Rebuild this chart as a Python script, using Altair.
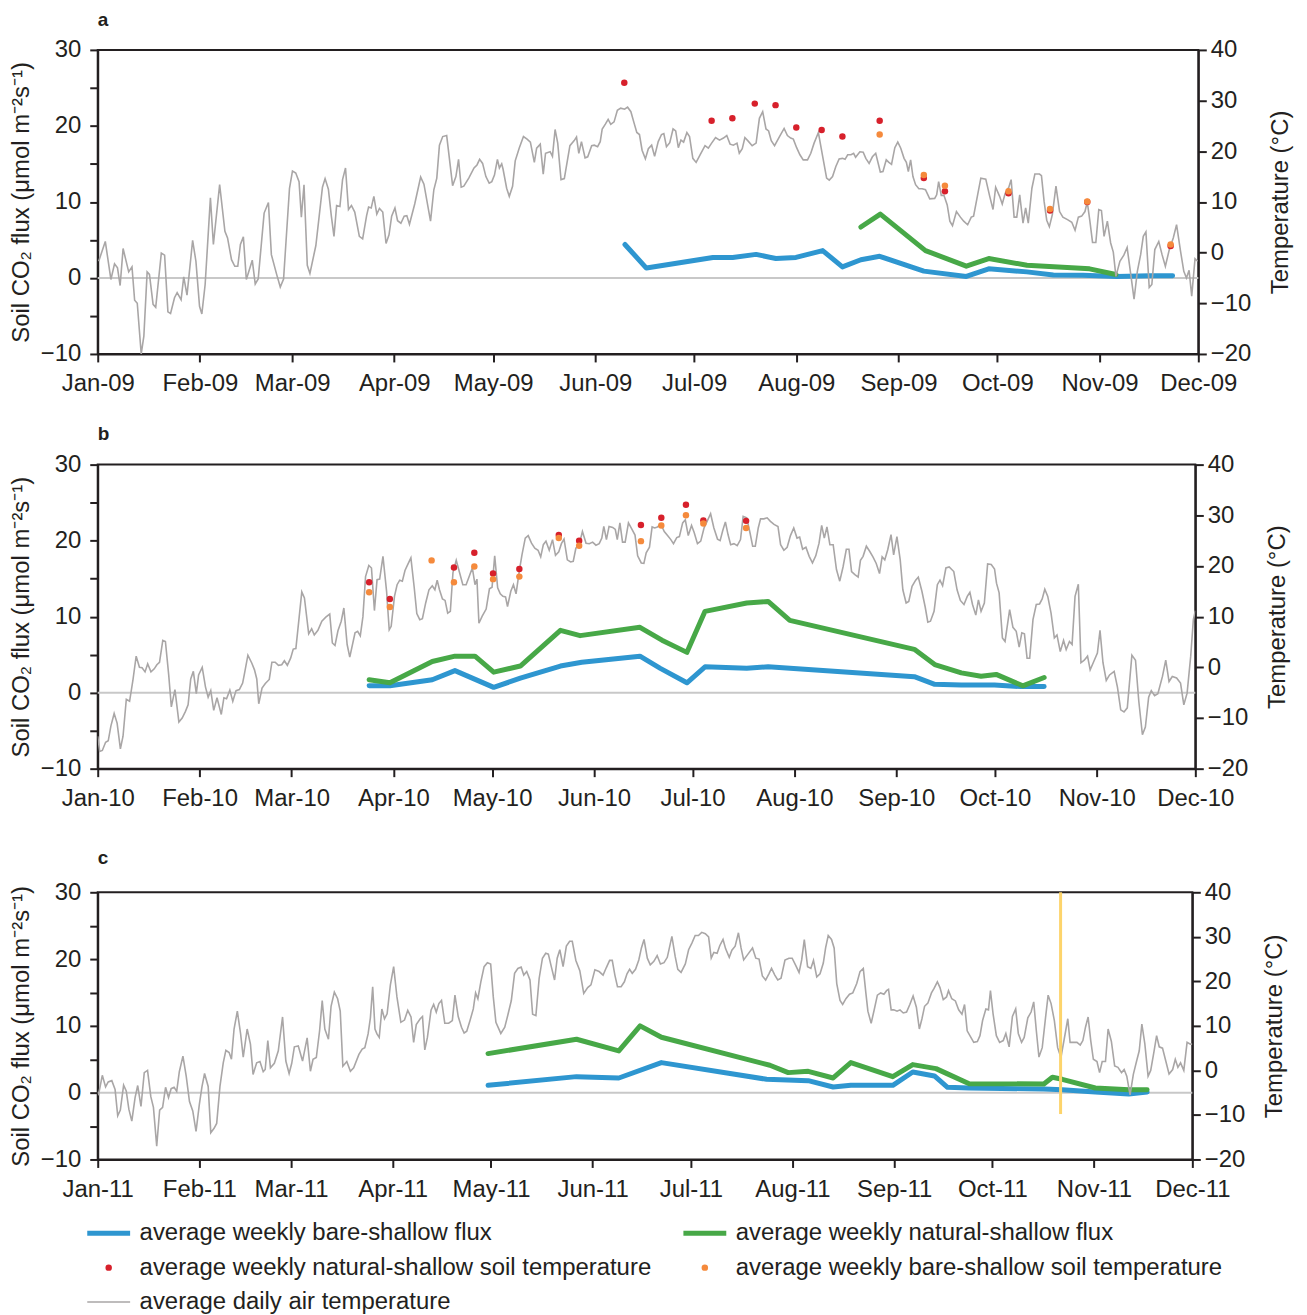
import altair as alt
import pandas as pd

# ---------------- values ----------------
YEARS = [2009, 2010, 2011]
PANEL_LABELS = ["a", "b", "c"]
MONTHS = list(range(1, 13))

# daily air temperature: (day offset from 1 Jan, deg C)
AIR_2009 = [(0.3,-1.7),(2.3,2.2),(4,-5.3),(5.1,-2.2),(6,-3.0),(6.8,-6.5),(7.7,0.8),(9.4,-3.8),(10.4,-2.8),(11.2,-9.4),(12,-10),(13.2,-20),(14,-16.5),(15,-3.8),(15.7,-4.3),(16.8,-10.2),(17.6,-10.8),(19.3,-0.1),(20.3,-0.5),(21.3,-11.7),(22.1,-12),(23.3,-8.9),(24.1,-7.9),(25.3,-9.3),(26.1,-4.8),(27.1,-8.4),(28.8,2.4),(29.8,-1.7),(30.9,-10.6),(31.6,-12.1),(32.6,-6.3),(34.2,10.8),(35.1,1.6),(37,13.4),(38.6,4.2),(39.4,2.9),(40.6,-1.4),(41.6,-2.7),(42.5,-2.7),(43.3,1.6),(44.2,3.1),(45.1,-5.3),(46.9,-1.5),(47.8,-6.2),(48.7,-5.2),(50.5,7.8),(51.8,9.9),(52.7,-0.4),(54.3,-4.3),(55.4,-6.8),(56.4,-5.2),(58.2,12.7),(59.1,16.1),(60.1,15.7),(61.1,14),(61.8,7),(62.6,13.4),(63.6,-2.5),(64.4,-4.1),(66.2,1.4),(68.2,12.9),(69,14.6),(70,12.5),(70.9,7.2),(71.7,3.2),(72.5,9.3),(73.5,9.1),(74.3,14.4),(75.2,16.7),(76.1,8.5),(77,9.3),(78,8),(79.4,3.2),(80.4,2.7),(81.6,7.3),(82.2,9),(83,8.8),(83.8,11.1),(84.7,7.6),(85.5,8.7),(86.5,8),(87.5,1.8),(88.4,3.5),(89.2,7.2),(90.2,8.8),(91,6.3),(92,5.8),(93,7.2),(93.8,7.3),(94.6,5.6),(96.2,9.6),(98,14.9),(99,13.5),(101,6.2),(102,12.4),(102.9,14.7),(103.7,21.2),(104.7,22.9),(105.9,23.1),(107.7,13.2),(108.7,15),(109.5,18.4),(110.3,12.9),(111.1,13.1),(112.6,14.7),(114.2,16.7),(115.1,17.3),(115.9,18.4),(116.8,17.6),(117.8,15),(118.8,13.7),(119.6,14),(120.4,15.3),(121.3,18.4),(121.9,16.7),(122.6,17.5),(123,16.5),(124.1,12.7),(124.9,11.1),(125.9,13.1),(126.7,18.1),(127.9,20.6),(129.2,22.9),(130.3,22.4),(131.3,21.8),(132.5,17.8),(133.2,20.6),(134.3,21.4),(135.2,15.5),(135.9,19.6),(137.3,19.9),(138,19),(138.8,24.3),(139.6,21.6),(140.6,14.4),(141.6,14.6),(143.3,21.1),(144.6,22.1),(145.3,22.8),(146,19.6),(146.8,21.9),(147.9,18.7),(148.7,18.9),(149.9,21.1),(150.7,21.2),(151.7,20.9),(152.5,21.9),(153.1,24.4),(154.1,25.4),(154.9,26.3),(155.7,25.3),(156.7,25.8),(157.7,28.1),(158.7,28.5),(159.9,28.3),(160.8,28.7),(161.8,27.8),(162.8,25.5),(163.6,23.7),(164.4,23.3),(165.2,20.2),(166.2,18.5),(167.1,20.5),(168.1,21.2),(169,19),(170.1,21.9),(171.1,23.3),(171.8,23.5),(172.6,20.9),(173.6,21.7),(174.6,24.4),(175.4,24),(176.2,20.7),(177,22.2),(177.8,21.8),(178.8,23.7),(179.6,22.9),(180.6,18.6),(181.6,17.8),(182.8,19.3),(184.3,21.1),(185.3,20.6),(186.3,21.6),(187.5,22.7),(188.7,22.2),(189.9,22.6),(190.9,23.1),(191.9,21.4),(192.9,21.2),(194,21.6),(194.7,19.6),(195.6,20.5),(196.4,22.7),(197.4,22),(198.6,21.1),(199.8,21.6),(200.8,26.5),(201.8,27.8),(202.8,24.4),(203.6,24),(204.4,22.1),(205.4,21.1),(206.9,22.9),(208.3,24.5),(209.3,23.1),(210.3,22.6),(211.1,22.4),(212.1,20.7),(213.1,19.3),(214.1,18.3),(215.4,18.3),(216.4,19.6),(217.4,21.6),(218.7,23.7),(220,19),(221.2,14.7),(222,14.3),(223,15),(224,17),(225,18.5),(226,18.6),(226.8,18.4),(227.6,19.3),(228.6,19.3),(229.4,19.6),(230,18.8),(231.3,19.9),(232.3,19.8),(233.1,18.6),(234.1,17.6),(235.1,18.9),(236.1,19.6),(237.5,15.9),(238.3,16),(239.3,18.3),(240.1,17.8),(240.9,17.4),(241.9,20.7),(242.8,21.8),(243.7,20.6),(244.7,18.6),(245.4,17.8),(246,16),(246.7,18.3),(247.4,15),(248.2,13.4),(249.2,12.6),(250.2,12.6),(251.2,12.4),(252.5,10.6),(254,10.7),(254.6,11.4),(255.2,14),(256,11.3),(256.8,11.3),(257.8,9.4),(258.6,6.2),(259.4,5.3),(260.6,8.1),(261.8,7),(262.8,6.2),(264,5.5),(265.1,7),(265.8,7.2),(267,11.3),(268,14.7),(269.5,14.5),(270.7,11.1),(271.7,8.5),(272.5,12.9),(273.7,11.1),(274.5,9.6),(275.4,11.7),(276.5,12.9),(277.2,14.4),(278.1,7),(278.9,7),(279.8,11.4),(280.8,5.8),(281.6,8.8),(282.4,5.8),(283.5,12.7),(284.4,15.5),(285.8,15.5),(286.4,15.2),(287.2,10.1),(288,6.4),(288.8,5.1),(289.7,7.5),(290.8,13.1),(291.9,8.1),(292.9,7),(294.3,6.5),(295.6,6),(296.6,4.4),(297.6,7),(298.6,7.2),(299.6,8.1),(300.3,10),(301.1,6.2),(301.9,2),(302.9,2),(303.8,8.5),(304.6,8.3),(305.4,3.2),(306.4,6.2),(307.4,1.9),(308.2,0.1),(309,-4.7),(310.2,-1.7),(311.4,-0.5),(312.4,1),(313.5,-4.3),(314.5,-9.2),(315.5,-3.7),(316.5,-0.4),(317.3,3.2),(318.1,4.1),(319.1,-6.9),(319.9,-6.3),(320.8,0.6),(322,2.2),(323,-0.4),(324,-2.7),(325.2,0.6),(326.4,2.9),(327.4,5.5),(328.6,0.3),(329.6,-3.7),(330.4,-5),(331.2,-3.5),(332,-8.6),(333,-1.2),(333.8,-1.7)]

AIR_2010 = [(0,-13.6),(0.6,-16.6),(1.4,-16.4),(2.4,-14.8),(3.2,-14.5),(4,-11.6),(5,-9.1),(5.9,-11),(6.9,-16.1),(7.7,-13.6),(8.7,-6.3),(9.7,-6.7),(10.7,-2.6),(11.7,2.2),(12.7,0),(13.5,-0.1),(14.4,-0.9),(15.2,0.7),(16.2,-0.9),(17.2,-0.3),(18,0.5),(18.8,1),(19.8,5.3),(20.6,5.1),(21.6,-1.5),(22.4,-7.8),(23.5,-4.4),(24.7,-10.8),(25.7,-10),(26.7,-8.7),(27.5,-7.4),(28.3,-2.3),(29.1,-0.8),(30,-5.2),(30.7,-1.5),(31.8,0),(32.8,-3.9),(33.6,-5.9),(34.4,-4.6),(35.3,-8.5),(36.3,-6),(37.6,-9.3),(38.4,-6),(39.2,-6.2),(40.2,-4.5),(41.1,-6.7),(42.1,-4.6),(43.1,-4.4),(44.1,-3.1),(44.7,-1.1),(45.7,2.4),(46.9,0.8),(47.7,-0.5),(48.4,-2.3),(49,-7.2),(50,-4.1),(51,-3.2),(52.2,-2.4),(53,1),(54,1),(55,0.4),(56,0.5),(56.8,1.3),(57.7,0.4),(58.7,1.8),(59.5,3.6),(60.3,3.7),(61.3,9.9),(62.1,14.9),(62.9,13.7),(64.2,6.6),(65.1,7.6),(65.9,6.4),(67,7.3),(68.2,9.1),(69.4,9.9),(70.6,10.5),(71.4,4.8),(72.2,4.3),(73.1,7.2),(74.1,9.1),(74.9,11.7),(75.9,4.5),(76.7,2),(78.3,6.8),(79.1,7.1),(79.9,6.2),(80.7,10),(81.5,17.9),(82.5,20.1),(83.3,19.6),(84.2,11.2),(85,17.3),(85.8,17.4),(86.8,21.9),(87.9,15),(88.7,7.4),(89.3,8.1),(90.3,14),(91.1,16.3),(91.9,17.2),(92.7,17),(93.5,19.1),(94.5,20.5),(95.3,21.6),(96.3,15.8),(97.1,10.6),(98,9.4),(98.8,9.6),(99.8,12.7),(100.8,15.3),(101.8,16.1),(102.6,15.3),(103.3,17.2),(104,15.3),(104.9,13.5),(105.7,13.2),(106.5,10.7),(107.3,11.05),(108.1,18.7),(109.1,21.1),(110.1,18.7),(111.1,16.3),(112.1,16.3),(113.2,18.2),(114,19.6),(114.8,16.3),(115.4,17.4),(116,8.7),(117,10.1),(118.2,11.5),(119.2,15.5),(120,15.8),(120.8,22),(121.7,15.7),(122.5,14.5),(123.3,14),(124.1,13.9),(124.7,12),(125.7,15),(126.5,16.3),(127.3,14.5),(128.3,19.1),(129.1,22.2),(130.1,25.5),(131,26),(132,24.5),(133,23.5),(134,23.1),(134.8,21.8),(135.6,24.2),(136.4,24.9),(137.4,23.1),(138.4,25.2),(139.3,22.1),(140.3,22.8),(141.1,24.4),(141.9,25.3),(142.9,21.2),(143.9,20.8),(144.7,20.9),(145.5,23.5),(146.5,24.2),(147.5,26.8),(148.6,24.5),(149.6,24.4),(150.6,24.7),(151.6,24.1),(152.6,24.4),(153.4,25.5),(154,27.8),(154.8,25.2),(155.6,27.8),(156.7,27.6),(157.5,27.2),(158.1,25.2),(158.9,28.5),(159.7,24.7),(160.5,24.7),(161.5,28.5),(162.5,27.3),(163.5,26.1),(164.3,22),(165.4,20.6),(166.2,20.5),(166.9,22.6),(167.9,23.7),(168.7,27.7),(169.5,27.5),(170.3,27.7),(171.4,28.2),(172.4,26.8),(173.4,26),(174.4,25.2),(175.2,24.4),(176.2,25.6),(177,25.8),(178,28.5),(178.8,29.1),(179.7,26),(180.7,28),(181.5,26.6),(182.5,24.4),(183.5,24.9),(184.5,27.5),(185.5,28.9),(186.5,30.3),(187.5,27.5),(188.6,25.3),(189.4,25),(190.2,27),(191,28.7),(191.8,26.2),(192.6,24.2),(193.6,24.4),(194.6,24),(195.6,25.2),(196.4,29.8),(197.5,29.5),(198.5,26.5),(199.3,23.9),(200.1,23.9),(201,27.5),(201.7,29.3),(202.7,29.3),(203.7,29.5),(204.7,28.8),(205.8,28.2),(207,27.8),(207.8,24.2),(208.8,23.1),(209.8,23.7),(210.8,26),(211.8,27.5),(212.8,25.5),(213.6,25.7),(214.5,23.3),(215.5,23.7),(216.5,21.9),(217.5,20.6),(218.5,22),(219.5,24.5),(220.3,28),(221.1,25.5),(221.9,27.7),(222.8,24.2),(223.8,24.2),(224.8,19.3),(225.8,17),(226.8,19.8),(227.8,23.3),(228.6,23.3),(229.4,18.9),(230.4,18.3),(231.4,17.8),(232.1,21.1),(232.9,21.9),(233.9,23.9),(234.9,22.9),(235.9,21.8),(236.9,20.5),(237.9,18.5),(238.7,21.8),(239.5,21.2),(240.4,23.2),(241.4,26.2),(242.2,22.2),(243.2,25.8),(244.2,21.2),(245,15.3),(246,12.7),(246.8,13),(247.8,16),(248.9,17.2),(249.7,17.8),(250.8,15),(251.8,11.9),(252.6,8.9),(253.4,9.1),(254.5,11.05),(255.5,16.3),(256.3,17.2),(257.1,16.1),(258.1,19.6),(259.1,19.8),(260.5,18.9),(261.5,15.3),(262.5,13.2),(263.6,12.4),(264.6,14),(265.4,14.8),(266.2,12.4),(267.2,10.3),(268,13.3),(268.8,11.05),(269.8,12.7),(270.8,20.4),(271.9,20.3),(272.9,19.4),(273.5,16.6),(274.3,14.7),(275.3,5.8),(276.1,5.1),(277.5,11.4),(278.5,7.9),(279.5,7.1),(280.4,4),(281.2,6.8),(282,6.6),(282.8,1.8),(283.6,1.8),(284.6,9.4),(285.6,12.4),(286.6,12.5),(287.4,13.5),(288.2,15.4),(289.1,14),(290.1,10.7),(291.1,5.8),(291.9,6.4),(292.9,3.1),(293.9,5.3),(294.7,3.5),(295.7,5.1),(296.5,4.5),(297.4,14),(298.4,16.4),(299.2,0.9),(300.2,1.4),(301.2,2.2),(302,-0.5),(303,1),(304.2,2.8),(305,7.3),(305.9,0.9),(306.9,-2.6),(307.9,-1.5),(309.3,-0.8),(310.3,-3.9),(311.3,-8.4),(312.3,-8.8),(313.3,-8),(314.7,2.4),(315.8,1.4),(316.8,-6.7),(317.9,-13.3),(318.8,-11.8),(319.8,-5.9),(320.6,-4.6),(321.6,-5.6),(322.6,-5.2),(324,-1.8),(325,1.4),(326,-2.8),(327,-1.8),(328.3,-2.1),(329.5,-3.1),(330.5,-7.4),(331.5,-5.1),(332.6,2.2),(333.4,9.4),(334,11.2)]

AIR_2011 = [(0.2,-5.6),(1.4,-1.1),(2.4,-3.7),(3.2,-2.6),(4.3,-2.3),(5.3,-4.3),(6.1,-10.2),(6.9,-8.9),(7.9,-3.3),(8.7,-4.6),(9.5,-8.7),(10.4,-11.4),(11.4,-6.1),(12.2,-3.4),(13.2,-8.1),(14.2,-0.5),(15.2,0),(16.2,-5.9),(17,-8.3),(18,-17),(18.9,-8.9),(19.8,-8.3),(20.7,-3.8),(21.6,-6.1),(22.4,-4.1),(23.3,-3.8),(24.1,-4.7),(24.9,-0.3),(26,3.2),(27,-1.3),(28,-7),(29,-9.1),(30,-13.7),(31,-7.7),(31.8,-3.7),(32.6,-0.7),(33.7,-3.6),(34.5,-14),(35.5,-13),(36.3,-11.9),(37.3,-3.6),(38.3,1.7),(39.1,4.5),(40.1,4),(40.8,2.5),(41.6,9.3),(42.6,13.3),(43.6,8.2),(44.4,3),(45.6,9.3),(46.6,5.9),(47.4,-0.9),(48.5,1.7),(49.5,2),(50.5,-0.3),(51.1,0.2),(51.9,6.7),(52.7,0.6),(53.9,1.6),(55.1,4.4),(56.4,12),(57.4,2.1),(58.4,-0.7),(59.2,1.6),(60,5.3),(61.2,5.5),(62.5,2.1),(63.9,7.3),(64.9,-0.2),(65.7,2.5),(66.7,2.9),(67.7,8.9),(68.5,15.7),(69.3,9.3),(70.4,7),(71.2,14.4),(72.2,17.6),(73.2,16.1),(74,13.3),(74.8,0.95),(76,2),(77.1,-0.2),(78.1,0.6),(79.7,3.6),(80.7,4.8),(81.5,5.1),(82.5,8.2),(83.2,11.8),(83.9,18.8),(84.6,9.3),(85.2,8.2),(85.9,7.4),(86.7,13.8),(87.5,11.6),(88.3,12.7),(89.3,19.2),(90.3,23.3),(91.3,16.5),(92.5,10.8),(93.6,11.3),(94.6,13.5),(95.6,12),(96.4,6.3),(97.2,10.3),(98.4,11.6),(99.1,12.1),(99.8,4.6),(100.6,7.4),(101.7,13.5),(102.5,14.8),(103.3,13.1),(104.1,15),(104.9,15.7),(105.9,10.6),(107.1,10.6),(108.2,11.2),(109,16.9),(110,12.1),(111,9.7),(111.8,8.4),(112.6,8.8),(113.6,11.2),(114.6,13.8),(115.3,17.4),(116,16.1),(116.9,19.9),(117.9,23.3),(118.9,24.2),(119.9,23.9),(120.7,16.5),(121.5,10.8),(123,8.3),(124.2,9.7),(125.2,12.6),(126.2,15.7),(127.2,21.8),(128.2,22.9),(129.2,23.2),(130,21.4),(130.9,22.2),(131.9,20.3),(132.7,12.6),(133.7,12.3),(134.7,20.7),(135.7,25.2),(136.7,26.3),(137.5,26.1),(138.4,23.3),(139.4,20.3),(140.2,25.2),(141,27.1),(142,23.3),(143,27.9),(144,29),(144.8,29),(145.9,24.7),(147.1,22.4),(148.3,17.3),(149.5,18.6),(150.5,19.2),(151.7,22.6),(153,22.2),(154.2,21.4),(155.2,23.1),(156.2,24.7),(157,24.7),(157.8,21.4),(158.6,18.8),(159.7,18.8),(160.7,19.9),(161.5,21.7),(162.3,22.7),(163.1,21.8),(164.1,22.7),(165.1,24.8),(165.9,27.5),(166.7,29.4),(167.7,25.2),(168.6,23.7),(169.7,24.5),(170.7,25.8),(171.7,23.9),(172.8,24.2),(173.8,25.4),(175.2,30.1),(176.2,25.6),(177,22.7),(178,22),(179.3,23.9),(180.3,27.1),(181.3,28.6),(182.3,30.3),(183.3,30.3),(184.3,31),(185.4,30.7),(186.4,30),(187.2,25.2),(188,26.5),(189,26.3),(189.8,28),(190.8,29.4),(191.6,27.3),(192.7,25.4),(193.5,27),(194.5,27.9),(195.5,30.9),(196.3,27.5),(197.1,24.8),(198.3,26),(199.8,27.5),(200.8,25.2),(201.8,25),(202.8,21.2),(203.8,20.3),(204.8,21.7),(205.6,22.9),(206.6,21.4),(207.5,20.3),(208.5,20.7),(209.7,24.8),(210.9,25.2),(211.9,25.2),(212.9,23.7),(214,22),(214.8,24.8),(215.6,29.4),(216.6,23.3),(217.6,22.9),(218.4,24.7),(219.4,21),(220.4,21.7),(221.4,24.1),(222.1,27.5),(222.9,30.3),(223.9,29.4),(224.7,27.5),(225.5,19.5),(226.5,15.7),(227.3,14.8),(228.3,16.1),(229.4,17.1),(230.4,17.4),(231.6,19.5),(232.6,22.2),(233.6,22.9),(234.4,17.3),(235,13.3),(236,10.6),(236.9,13.5),(237.9,16.9),(238.9,17.4),(239.9,17.1),(240.7,17.9),(241.3,18.2),(242.1,13.6),(242.9,13.6),(243.9,13.3),(244.8,13.6),(245.8,12.9),(246.8,13.1),(247.8,14.8),(248.8,16.7),(249.8,14.2),(250.7,9.3),(251.5,11.6),(252.3,14.4),(253.3,15.1),(254.4,17.4),(255.2,18.4),(256.2,19.9),(257,18.6),(258,15.9),(259,16.5),(259.6,17.9),(260.6,16.1),(261.7,15.6),(262.7,13.6),(263.7,12.6),(264.5,14.8),(265.3,8.9),(266.3,7.6),(267.3,6.3),(268.4,6.5),(269.2,7.8),(270,11.2),(271,13.8),(271.8,13.6),(272.4,17.9),(273.2,12.7),(274.2,7.8),(275.2,6.3),(276.3,6.7),(277.1,8.3),(278.1,5.3),(279.1,12.1),(280.1,13.8),(280.9,8.3),(281.9,6.3),(282.7,7.4),(283.8,11.8),(284.8,13.1),(285.6,15.4),(286.4,8.9),(287.2,3),(288.2,5.1),(289.2,11.8),(290,16.9),(290.9,15),(291.9,11.2),(292.9,5.1),(293.9,2.9),(294.9,7),(296,11.6),(296.7,6.3),(297.8,6.3),(298.8,6.3),(299.8,5.7),(300.6,6.7),(301.4,9.7),(302.2,12),(303,6.7),(303.8,2.5),(304.9,2),(305.7,-0.5),(306.5,2),(307.5,2),(308.3,9.3),(309.3,6.5),(310.3,1),(311.3,0.7),(312.4,-0.5),(313.2,0.2),(314,-1.3),(315,-5.5),(316,-0.9),(317,2.1),(317.8,4.4),(318.6,10.4),(319.5,6),(320.5,-1.3),(321.3,0),(322.3,4.2),(323.1,7.8),(323.9,5.3),(324.9,5),(325.9,2.1),(326.9,-0.8),(328,0.2),(328.8,2.5),(329.6,0.7),(330.4,1.7),(331.4,0),(332.4,6.3),(333.4,5.9),(334,5.9)]

# weekly flux (umol m-2 s-1): (day offset, value)
BARE_FLUX_2009 = [(160,4.4),(166.5,1.3),(186.7,2.7),(192.7,2.7),(199.8,3.1),(205.8,2.55),(211.9,2.7),(220,3.6),(226,1.45),(231.6,2.4),(237.3,2.85),(250.7,0.9),(263.6,0.2),(270.4,1.2),(282,0.8),(290,0.4),(299,0.35),(309.2,0.2),(319.3,0.3),(326.2,0.3)]
NAT_FLUX_2009 = [(231.6,6.7),(237.5,8.4),(251.2,3.6),(263.6,1.55),(270.4,2.55),(282,1.67),(301,1.2),(309,0.45)]
BARE_FLUX_2010 = [(82.6,0.9),(88.9,0.9),(101.8,1.7),(108.7,2.9),(120.5,0.7),(128.6,1.9),(140.8,3.5),(147.3,4.0),(165,4.8),(171.2,3.2),(179.3,1.3),(184.8,3.4),(197.5,3.2),(204,3.4),(248.5,2.1),(254.7,1.1),(262.8,1.0),(272.9,1.0),(281,0.8),(288,0.8)]
NAT_FLUX_2010 = [(82.6,1.7),(88.9,1.3),(101.8,4.1),(108.7,4.8),(114.8,4.8),(120.5,2.7),(128.6,3.5),(140.8,8.2),(146.8,7.5),(165,8.6),(171.7,6.9),(179.3,5.3),(184.8,10.7),(197.5,11.8),(204,12.0),(210.6,9.5),(248.5,5.7),(254.7,3.7),(262.8,2.6),(268.8,2.15),(273.4,2.4),(281.5,0.9),(288,2.0)]
BARE_FLUX_2011 = [(119.1,1.1),(146.1,2.4),(159,2.2),(172,4.5),(204.1,2.0),(216.8,1.8),(224.4,0.85),(229.8,1.1),(242.6,1.1),(248.7,3.1),(255.3,2.5),(259.3,0.8),(265.9,0.7),(288.7,0.55),(294.3,0.45),(304.4,0.1),(314.6,-0.2),(320.2,0.1)]
NAT_FLUX_2011 = [(119.1,5.85),(146.1,8.0),(159,6.25),(165.5,10.0),(172,8.3),(205.1,4.1),(210.7,3.0),(216.8,3.2),(224.4,2.2),(229.8,4.5),(242.6,2.4),(248.7,4.2),(255.8,3.6),(259.8,2.7),(265.9,1.35),(288.7,1.3),(291.3,2.3),(294.3,2.0),(304.4,0.7),(314.6,0.45),(320.2,0.45)]

# weekly shallow soil temperature (deg C): (day offset, value)
NAT_SOIL_2009 = [(159.8,33.5),(186.3,26),(192.6,26.5),(199.4,29.4),(205.7,29.1),(212,24.7),(219.7,24.2),(226,22.9),(237.3,26),(250.7,14.7),(257.1,12.1),(276.4,11.7),(289,8.3),(300.3,10.0),(325.6,1.3)]
BARE_SOIL_2009 = [(237.3,23.3),(250.7,15.3),(257.1,13.2),(276.4,12.1),(289,8.6),(300.3,10.1),(325.6,1.6)]
NAT_SOIL_2010 = [(82.6,16.8),(88.9,13.5),(108.4,19.7),(114.6,22.6),(120.3,18.5),(128.3,19.4),(140.3,26.1),(146.5,25),(165.3,28.1),(171.5,29.5),(179,32.1),(184.3,29),(197.3,28.9)]
BARE_SOIL_2010 = [(82.6,14.8),(88.9,11.9),(101.6,21.1),(108.4,16.8),(114.6,19.9),(120.3,17.4),(128.3,17.9),(140.3,25.5),(146.5,24),(165.3,24.9),(171.5,28),(179,30),(184.3,28.4),(197.3,27.5)]
NAT_SOIL_2011 = []
BARE_SOIL_2011 = []

# event marker in 2011 (day offset, flux range)
MARKER_2011_DAY = 293.8
MARKER_2011_RANGE = (-3.2, 30)

LEGEND_LABELS = [
    "average weekly bare-shallow flux",
    "average weekly natural-shallow flux",
    "average weekly natural-shallow soil temperature",
    "average weekly bare-shallow soil temperature",
    "average daily air temperature",
]

# ---------------- styling ----------------
FONT = "Liberation Sans"
INK = "#231f20"
BLUE = "#2e96d0"
GREEN = "#47a847"
RED = "#d7202b"
ORANGE = "#f58a3c"
GREY = "#a9a6a6"
ZERO = "#c8c8c8"
YELLOW = "#fdd46b"
WIDTHS = [1104, 1101, 1098]
HEIGHTS = [305, 305, 268]
FS = 24
DOT = 42


def frame(pairs, year, name):
    t0 = pd.Timestamp(year=year, month=1, day=1)
    return pd.DataFrame({
        "date": [t0 + pd.Timedelta(days=float(d)) for d, _ in pairs],
        name: [float(v) for _, v in pairs],
    })


def panel(i, air, bare_flux, nat_flux, nat_soil, bare_soil, marker=None, title_offset=9):
    year = YEARS[i]
    xscale = alt.Scale(domain=[alt.DateTime(year=year, month=1, date=1),
                               alt.DateTime(year=year, month=12, date=1)])
    xaxis = alt.Axis(values=[alt.DateTime(year=year, month=m, date=1) for m in MONTHS],
                     format="%b-%y", labelFlush=False, labelOverlap=False, title=None,
                     labelPadding=10)
    x = alt.X("date:T", scale=xscale, axis=xaxis)

    flux_scale = alt.Scale(domain=[-10, 30], nice=False, zero=False)
    temp_scale = alt.Scale(domain=[-20, 40], nice=False, zero=False)
    flux_axis = alt.Axis(orient="left", values=list(range(-10, 31, 5)),
                         labelExpr="datum.value % 10 === 0 ? datum.label : ''",
                         title="Soil CO₂ flux (μmol m⁻²s⁻¹)", titlePadding=7, labelPadding=9)
    temp_axis = alt.Axis(orient="right", values=list(range(-20, 41, 10)),
                         title="Temperature (°C)", titleAngle=270, titleBaseline="top",
                         titlePadding=18, labelPadding=4)
    yf = alt.Y("flux:Q", scale=flux_scale, axis=flux_axis)
    yt = alt.Y("temp:Q", scale=temp_scale, axis=temp_axis)

    zero = alt.Chart(pd.DataFrame({"flux": [0.0]})).mark_rule(color=ZERO, strokeWidth=2).encode(y=yf)
    bare = alt.Chart(frame(bare_flux, year, "flux")).mark_line(
        color=BLUE, strokeWidth=5, strokeCap="round", strokeJoin="round").encode(x=x, y=yf)
    nat = alt.Chart(frame(nat_flux, year, "flux")).mark_line(
        color=GREEN, strokeWidth=5, strokeCap="round", strokeJoin="round").encode(x=x, y=yf)
    left = alt.layer(zero, bare, nat)

    air_l = alt.Chart(frame(air, year, "temp")).mark_line(
        color=GREY, strokeWidth=1.6, clip=True).encode(x=x, y=yt)
    right_layers = [air_l]
    if nat_soil:
        right_layers.append(alt.Chart(frame(nat_soil, year, "temp")).mark_circle(
            color=RED, size=DOT, opacity=1).encode(x=x, y=yt))
    if bare_soil:
        right_layers.append(alt.Chart(frame(bare_soil, year, "temp")).mark_circle(
            color=ORANGE, size=DOT, opacity=1).encode(x=x, y=yt))
    right = alt.layer(*right_layers)

    layers = [left, right]
    if marker is not None:
        day, (lo, hi) = marker
        t0 = pd.Timestamp(year=year, month=1, day=1)
        mdf = pd.DataFrame({"date": [t0 + pd.Timedelta(days=day)], "lo": [lo], "hi": [hi]})
        layers.append(alt.Chart(mdf).mark_rule(color=YELLOW, strokeWidth=3).encode(
            x=x,
            y=alt.Y("lo:Q", scale=alt.Scale(domain=[-10, 30], nice=False, zero=False), axis=None),
            y2="hi:Q"))

    return alt.layer(*layers).resolve_scale(y="independent").properties(
        width=WIDTHS[i], height=HEIGHTS[i],
        title=alt.TitleParams(PANEL_LABELS[i], anchor="start", frame="group", fontSize=19,
                              fontWeight="bold", font=FONT, color=INK, offset=title_offset, dx=0))


pa = panel(0, AIR_2009, BARE_FLUX_2009, NAT_FLUX_2009, NAT_SOIL_2009, BARE_SOIL_2009, title_offset=8)
pb = panel(1, AIR_2010, BARE_FLUX_2010, NAT_FLUX_2010, NAT_SOIL_2010, BARE_SOIL_2010)
pc = panel(2, AIR_2011, BARE_FLUX_2011, NAT_FLUX_2011, NAT_SOIL_2011, BARE_SOIL_2011,
           marker=(MARKER_2011_DAY, MARKER_2011_RANGE), title_offset=12)

# ---------------- legend ----------------
leg_df = pd.DataFrame({
    "label": LEGEND_LABELS,
    "col": [k % 2 for k in range(len(LEGEND_LABELS))],
    "row": [k // 2 for k in range(len(LEGEND_LABELS))],
})
lab_dom = LEGEND_LABELS
lx = alt.X("col:Q", scale=alt.Scale(domain=[0, 1], range=[11, 609]), axis=None)
ly = alt.Y("row:Q", scale=alt.Scale(domain=[0, 2], range=[0, 69]), axis=None)
leg_sym = alt.Chart(leg_df).mark_point(filled=True, opacity=1).encode(
    x=lx, y=ly,
    shape=alt.Shape("label:N", scale=alt.Scale(domain=lab_dom, range=["stroke", "stroke", "circle", "circle", "stroke"]), legend=None),
    fill=alt.Fill("label:N", scale=alt.Scale(domain=lab_dom, range=[BLUE, GREEN, RED, ORANGE, GREY]), legend=None),
    stroke=alt.Stroke("label:N", scale=alt.Scale(domain=lab_dom, range=[BLUE, GREEN, RED, ORANGE, GREY]), legend=None),
    size=alt.Size("label:N", scale=alt.Scale(type="ordinal", domain=lab_dom, range=[1849, 1849, DOT, DOT, 1849]), legend=None),
    strokeWidth=alt.StrokeWidth("label:N", scale=alt.Scale(type="ordinal", domain=lab_dom, range=[5, 5, 0, 0, 1.6]), legend=None),
)
leg_txt = alt.Chart(leg_df).mark_text(align="left", baseline="middle", dx=31, font=FONT,
                                      fontSize=FS, color=INK).encode(x=lx, y=ly, text="label:N")
legend = alt.layer(leg_sym, leg_txt).properties(width=WIDTHS[0], height=69,
                                                 view=alt.ViewBackground(strokeWidth=0))

chart = alt.vconcat(
    alt.vconcat(alt.vconcat(pa, pb, spacing=27), pc, spacing=37),
    legend, spacing=19,
).properties(padding={"left": 0, "top": 0, "right": 5, "bottom": 2}).configure_view(
    stroke=INK, strokeWidth=2
).configure_axis(
    domainColor=INK, domainWidth=2, tickColor=INK, tickWidth=2, tickSize=8,
    labelFont=FONT, labelFontSize=FS, labelColor=INK,
    titleFont=FONT, titleFontSize=FS, titleFontWeight="normal", titleColor=INK, grid=False
).configure_text(font=FONT)

chart.save("out.html", embed_options={"renderer": "svg", "actions": False})
